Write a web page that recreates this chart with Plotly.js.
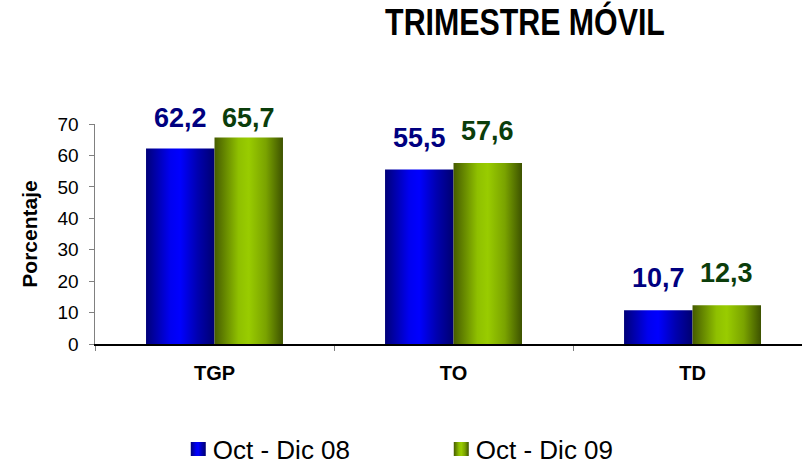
<!DOCTYPE html>
<html>
<head>
<meta charset="utf-8">
<script src="https://cdn.plot.ly/plotly-3.0.1.min.js"></script>
<style>html,body{margin:0;padding:0;background:#fff;}#chart{width:802px;height:465px;}</style>
</head>
<body>
<div id="chart"></div>
<script>
const categories = ["TGP", "TO", "TD"];
const seriesNames = ["Oct - Dic 08", "Oct - Dic 09"];
const values08 = [62.2, 55.5, 10.7];
const values09 = [65.7, 57.6, 12.3];
const labels08 = ["62,2", "55,5", "10,7"];
const labels09 = ["65,7", "57,6", "12,3"];
const yTicks = [0, 10, 20, 30, 40, 50, 60, 70];

const FONT = "Arial, 'Liberation Sans', sans-serif";
const barColors = ["#0000e0", "#88b800"];
const labelColors = ["#000080", "#0b3d0b"];

const traces = [
  {type: "bar", name: seriesNames[0], x: categories, y: values08, marker: {color: barColors[0]}, hoverinfo: "none"},
  {type: "bar", name: seriesNames[1], x: categories, y: values09, marker: {color: barColors[1]}, hoverinfo: "none"}
];

// data labels: above each bar, kept below the plot top
const halfBar = 0.1435;
const annotations = [];
[[values08, labels08, -1], [values09, labels09, 1]].forEach(function (s, k) {
  s[0].forEach(function (v, i) {
    annotations.push({
      x: i + s[2] * halfBar, xref: "x",
      y: Math.min(v + 7, 68.7), yref: "y",
      yanchor: "bottom", yshift: -7,
      text: s[1][i], showarrow: false,
      font: {family: FONT, size: 27, color: labelColors[k], weight: 700}
    });
  });
});

const layout = {
  width: 802, height: 465,
  margin: {l: 95, r: 0, t: 124, b: 121, autoexpand: false},
  paper_bgcolor: "#fff", plot_bgcolor: "#fff",
  barmode: "group", bargap: 0.427, bargroupgap: 0,
  showlegend: true,
  title: {
    text: "TRIMESTRE MÓVIL",
    x: 0.6546, xref: "container", xanchor: "center",
    y: 0.953, yref: "container", yanchor: "middle",
    font: {family: FONT, size: 37, color: "#000", weight: 700}
  },
  xaxis: {
    type: "category", range: [-0.5, 2.458],
    showline: true, linecolor: "#000", linewidth: 1.5,
    ticks: "outside", tickson: "boundaries", ticklen: 5, tickcolor: "#808080",
    tickfont: {family: FONT, size: 20, color: "#000", weight: 700},
    ticklabelstandoff: 10,
    showgrid: false, zeroline: false, fixedrange: true
  },
  yaxis: {
    range: [0, 70], tickvals: yTicks,
    showline: true, linecolor: "#808080", linewidth: 1.5,
    ticks: "outside", ticklen: 5, tickcolor: "#808080",
    tickfont: {family: FONT, size: 19, color: "#000"},
    ticklabelstandoff: 6,
    showgrid: false, zeroline: false, fixedrange: true,
    title: {text: "Porcentaje", standoff: 14, font: {family: FONT, size: 21, color: "#000", weight: 700}}
  },
  legend: {
    orientation: "h", x: 0.11, xanchor: "left", xref: "paper",
    y: 0.0344, yref: "container", yanchor: "middle",
    font: {family: FONT, size: 26, color: "#000"},
    entrywidth: 218, entrywidthmode: "pixels",
    bgcolor: "rgba(0,0,0,0)"
  },
  annotations: annotations
};

Plotly.newPlot("chart", traces, layout, {staticPlot: true, displayModeBar: false}).then(function (gd) {
  const svgs = gd.querySelectorAll(".main-svg");
  const svg = svgs[0];
  const ns = "http://www.w3.org/2000/svg";
  let defs = svg.querySelector("defs");
  if (!defs) { defs = document.createElementNS(ns, "defs"); svg.insertBefore(defs, svg.firstChild); }
  const grads = [
    ["gradBlue", [[0, "#000078"], [0.35, "#0000f0"], [0.5, "#0000ff"], [0.75, "#0000b0"], [1, "#000070"]]],
    ["gradGreen", [[0, "#465c00"], [0.35, "#8fc000"], [0.5, "#99cc00"], [0.75, "#7aa300"], [1, "#3d5200"]]]
  ];
  grads.forEach(function (g) {
    const lg = document.createElementNS(ns, "linearGradient");
    lg.setAttribute("id", g[0]);
    lg.setAttribute("x1", "0"); lg.setAttribute("y1", "0");
    lg.setAttribute("x2", "1"); lg.setAttribute("y2", "0");
    g[1].forEach(function (st) {
      const s = document.createElementNS(ns, "stop");
      s.setAttribute("offset", st[0]);
      s.setAttribute("stop-color", st[1]);
      lg.appendChild(s);
    });
    defs.appendChild(lg);
  });
  gd.querySelectorAll(".barlayer .trace").forEach(function (t, k) {
    t.querySelectorAll("path").forEach(function (p) { p.style.fill = "url(#" + grads[k][0] + ")"; });
  });
  gd.querySelectorAll(".legend .traces").forEach(function (t, k) {
    t.querySelectorAll(".legendpoints path").forEach(function (p) {
      p.setAttribute("d", "M13,7H-2V-7H13Z");
      p.style.fill = "url(#" + grads[k][0] + ")";
    });
  });
  // condensed title look
  const tt = gd.querySelector(".gtitle");
  if (tt) {
    const cx = 0.6546 * 802;
    tt.setAttribute("transform", "translate(" + cx + ",0) scale(0.82,1) translate(" + (-cx) + ",0)");
  }
});
</script>
</body>
</html>
